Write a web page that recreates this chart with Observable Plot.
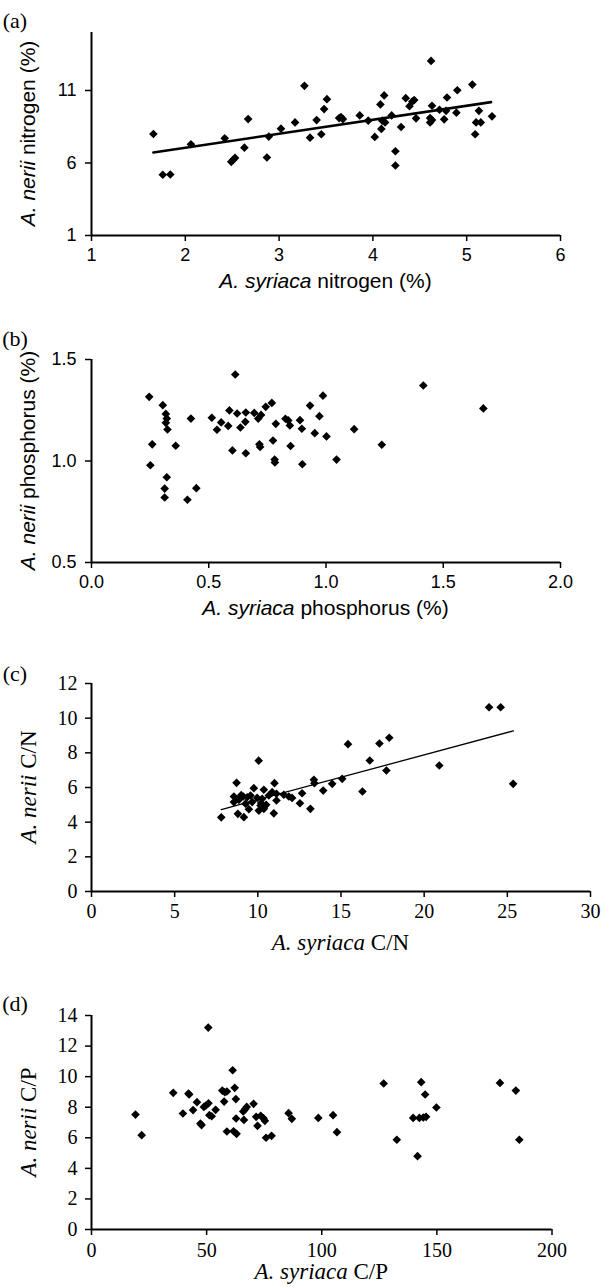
<!DOCTYPE html>
<html><head><meta charset="utf-8">
<script src="https://cdn.jsdelivr.net/npm/d3@7"></script>
<script src="https://cdn.jsdelivr.net/npm/@observablehq/plot@0.6"></script>
<style>
body{margin:0;background:#fff;}
#wrap{position:relative;width:601px;height:1287px;overflow:hidden;background:#fff;}
#wrap svg{position:absolute;left:0;}
</style></head>
<body><div id="wrap"></div>
<script>
// Panel (a): nitrogen (%)
const aX = [1.66,1.76,1.84,2.06,2.42,2.49,2.51,2.53,2.63,2.67,2.87,2.89,3.02,3.17,3.27,3.33,3.40,3.45,3.48,3.51,3.64,3.66,3.68,3.86,3.95,4.02,4.08,4.09,4.10,4.12,4.13,4.20,4.24,4.24,4.30,4.35,4.39,4.42,4.44,4.46,4.61,4.62,4.63,4.61,4.63,4.71,4.76,4.78,4.79,4.89,4.90,5.06,5.09,5.10,5.13,5.15,5.27];
const aY = [8.0,5.19,5.21,7.29,7.70,6.08,6.22,6.35,7.06,9.03,6.38,7.82,8.37,8.80,11.32,7.75,8.96,7.98,9.72,10.40,9.10,9.17,9.03,9.28,8.92,7.80,10.04,8.35,8.92,10.66,8.80,9.28,6.81,5.83,8.48,10.47,9.92,10.24,10.34,9.08,9.10,13.04,9.95,8.80,8.96,9.67,9.01,9.60,10.52,9.47,11.02,11.41,7.98,8.80,9.60,8.80,9.22];
const aFitX = [1.66, 5.26];
const aFitY = [6.72, 10.2];
const aTicksX = [1,2,3,4,5,6];
const aTicksY = [1,6,11];

// Panel (b): phosphorus (%)
const bX = [0.246,0.251,0.259,0.304,0.317,0.321,0.317,0.324,0.321,0.312,0.312,0.359,0.409,0.424,0.447,0.513,0.535,0.553,0.583,0.588,0.601,0.613,0.621,0.635,0.656,0.658,0.658,0.694,0.711,0.716,0.719,0.723,0.743,0.769,0.774,0.781,0.782,0.786,0.827,0.839,0.846,0.849,0.889,0.897,0.899,0.932,0.952,0.972,0.987,1.002,1.045,1.120,1.238,1.415,1.671];
const bY = [1.316,0.979,1.082,1.275,1.232,1.209,1.188,1.155,0.920,0.864,0.820,1.075,0.809,1.209,0.866,1.213,1.154,1.190,1.173,1.249,1.052,1.426,1.234,1.165,1.193,1.239,1.038,1.237,1.209,1.082,1.069,1.227,1.267,1.286,1.101,1.007,0.993,1.183,1.208,1.200,1.175,1.074,1.201,1.159,0.984,1.273,1.137,1.221,1.322,1.121,1.007,1.157,1.080,1.372,1.259];
const bTicksX = [0,0.5,1,1.5,2];
const bTicksY = [0.5,1,1.5];

// Panel (c): C/N
const cX = [7.8,8.56,8.56,8.72,8.86,8.80,9.12,9.36,9.26,9.56,9.16,9.66,9.76,9.96,10.26,10.16,10.36,10.06,10.36,10.66,10.86,11.0,11.12,11.12,10.96,10.05,11.56,11.86,12.06,12.53,12.66,13.16,13.37,13.4,13.93,14.47,15.07,15.42,16.29,16.73,17.31,17.73,17.90,20.91,23.90,24.60,25.35,9.46,10.5,9.0,10.2];
const cY = [4.28,5.48,5.16,6.27,5.29,4.48,5.48,5.44,5.06,5.54,4.29,5.16,5.96,5.40,5.35,4.96,4.77,4.67,5.87,5.54,5.73,6.25,5.64,5.25,4.51,7.55,5.58,5.48,5.40,5.09,5.67,4.77,6.44,6.25,5.82,6.21,6.50,8.50,5.77,7.56,8.54,6.98,8.87,7.27,10.63,10.63,6.21,4.75,5.0,5.56,5.1];
const cFitX = [7.8, 25.37];
const cFitY = [4.73, 9.27];
const cTicksX = [0,5,10,15,20,25,30];
const cTicksY = [0,2,4,6,8,10,12];

// Panel (d): C/P
const dX = [19.1,21.8,35.5,39.7,42.1,42.4,44.1,45.8,47.3,47.8,48.8,49.7,50.7,50.8,51.2,52.2,53.9,56.8,57.6,57.9,58.8,58.8,61.3,61.7,62.2,62.7,62.8,63.0,65.9,66.2,66.7,67.4,70.4,71.5,72.1,73.5,74.7,75.3,75.8,78.2,85.6,87.0,98.5,104.9,106.6,126.9,132.6,139.7,141.6,142.4,143.2,144.1,144.9,145.3,149.8,177.4,184.3,185.8];
const dY = [7.52,6.17,8.94,7.59,8.90,8.83,7.81,8.33,6.93,6.83,8.02,8.11,13.21,8.26,7.48,7.41,7.83,9.09,8.37,8.98,6.41,9.03,10.42,6.43,9.27,8.53,7.26,6.26,7.72,7.17,7.87,8.02,8.22,7.37,6.78,7.44,7.28,7.11,6.00,6.13,7.61,7.24,7.30,7.48,6.37,9.55,5.87,7.30,4.80,7.30,9.64,7.33,8.83,7.37,7.98,9.59,9.09,5.87];
const dTicksX = [0,50,100,150,200];
const dTicksY = [0,2,4,6,8,10,12,14];

const SANS = "'Liberation Sans', Arial, sans-serif";
const SERIF = "'Liberation Serif', 'Times New Roman', serif";

function panel(o) {
  const rows = o.xs.map((x, i) => ({x, y: o.ys[i]}));
  const marks = [
    Plot.axisX(o.ticksX, {tickSize: 6, tickPadding: o.padX, tickFormat: o.fmtX, label: null, strokeWidth: 1.5}),
    Plot.axisY(o.ticksY, {tickSize: 6, tickPadding: o.padY, tickFormat: o.fmtY, label: null, strokeWidth: 1.5}),
    Plot.ruleX([o.xDomain[0]], {strokeWidth: 2}),
    Plot.ruleY([o.yDomain[0]], {strokeWidth: 2})
  ];
  if (o.fitX) {
    const fit = o.fitX.map((x, i) => ({x, y: o.fitY[i]}));
    marks.push(Plot.line(fit, {x: "x", y: "y", stroke: "black", strokeWidth: o.fitW}));
  }
  marks.push(Plot.dot(rows, {x: "x", y: "y", symbol: "diamond2", r: 3.9, fill: "black", stroke: "none"}));
  const svg = Plot.plot({
    width: 601, height: o.height,
    marginTop: o.mt, marginBottom: o.mb, marginLeft: 91, marginRight: o.mr,
    style: {fontFamily: o.font, fontSize: o.tickFs + "px", color: "black", background: "transparent", overflow: "visible"},
    x: {domain: o.xDomain},
    y: {domain: o.yDomain},
    marks
  });
  svg.style.top = o.top + "px";
  const s = d3.select(svg);
  // panel letter
  s.append("text").attr("x", 15).attr("y", o.letterY)
    .style("font-family", SERIF).style("font-size", "22px").attr("fill", "black").text(o.letter);
  const cx = 91 + (601 - 91 - o.mr) / 2;
  const xt = s.append("text").attr("x", cx).attr("y", o.xTitleY).attr("text-anchor", "middle")
    .style("font-family", o.font).style("font-size", o.titleFs + "px").attr("fill", "black");
  xt.append("tspan").style("font-style", "italic").text(o.xTitle[0]);
  xt.append("tspan").text(o.xTitle[1]);
  const cy = o.mt + (o.height - o.mt - o.mb) / 2;
  const yt = s.append("text").attr("transform", `translate(${o.yTitleX},${cy}) rotate(-90)`)
    .attr("text-anchor", "middle").attr("dominant-baseline", "central")
    .style("font-family", o.font).style("font-size", o.titleFs + "px").attr("fill", "black");
  yt.append("tspan").style("font-style", "italic").text(o.yTitle[0]);
  yt.append("tspan").text(o.yTitle[1]);
  document.getElementById("wrap").appendChild(svg);
}

panel({xs: aX, ys: aY, fitX: aFitX, fitY: aFitY, fitW: 2.6,
  xDomain: [1, 6], yDomain: [1, 15], ticksX: aTicksX, ticksY: aTicksY,
  top: 0, height: 300, mt: 32, mb: 65, mr: 41, padX: 7, padY: 9,
  font: SANS, tickFs: 18, titleFs: 21, letter: "(a)", letterY: 28,
  xTitleY: 288, yTitleX: 27, xTitle: ["A. syriaca", " nitrogen (%)"], yTitle: ["A. nerii", " nitrogen (%)"]});

panel({xs: bX, ys: bY,
  xDomain: [0, 2], yDomain: [0.5, 1.5], ticksX: bTicksX, ticksY: bTicksY,
  fmtX: d => d.toFixed(1), fmtY: d => d.toFixed(1),
  top: 300, height: 330, mt: 59, mb: 68, mr: 41, padX: 7, padY: 9,
  font: SANS, tickFs: 18, titleFs: 21, letter: "(b)", letterY: 46,
  xTitleY: 315, yTitleX: 27, xTitle: ["A. syriaca", " phosphorus (%)"], yTitle: ["A. nerii", " phosphorus (%)"]});

panel({xs: cX, ys: cY, fitX: cFitX, fitY: cFitY, fitW: 1.3,
  xDomain: [0, 30], yDomain: [0, 12], ticksX: cTicksX, ticksY: cTicksY,
  top: 630, height: 330, mt: 53, mb: 69, mr: 11, padX: 6, padY: 8,
  font: SERIF, tickFs: 20, titleFs: 23, letter: "(c)", letterY: 51,
  xTitleY: 320, yTitleX: 28, xTitle: ["A. syriaca", " C/N"], yTitle: ["A. nerii", " C/N"]});

panel({xs: dX, ys: dY,
  xDomain: [0, 200], yDomain: [0, 14], ticksX: dTicksX, ticksY: dTicksY,
  top: 960, height: 327, mt: 55, mb: 58, mr: 49.5, padX: 7, padY: 8,
  font: SERIF, tickFs: 20, titleFs: 23, letter: "(d)", letterY: 51,
  xTitleY: 319, yTitleX: 28, xTitle: ["A. syriaca", " C/P"], yTitle: ["A. nerii", " C/P"]});
</script>
</body></html>
